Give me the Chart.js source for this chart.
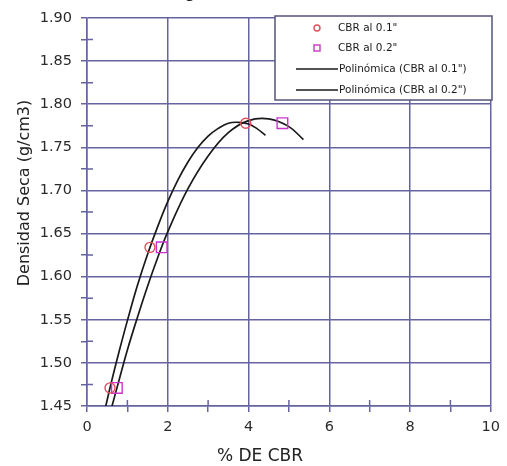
<!DOCTYPE html>
<html>
<head>
<meta charset="utf-8">
<script src="https://cdn.jsdelivr.net/npm/chart.js@4.4.1/dist/chart.umd.min.js"></script>
<style>
  html, body { margin: 0; padding: 0; background: #fff; }
  #wrap { width: 507px; height: 466px; }
</style>
</head>
<body>
<div id="wrap"><canvas id="chart" width="507" height="466"></canvas></div>
<script>
const chartTitle = 'Diagrama Densidad Seca vs. CBR';
const xTitle = '% DE CBR';
const yTitle = 'Densidad Seca (g/cm3)';

// ensayos
const cbr01 = [0.57, 1.56, 3.93];
const dens01 = [1.471, 1.634, 1.778];
const cbr02 = [0.74, 1.85, 4.84];
const dens02 = [1.471, 1.634, 1.778];

// curvas de tendencia
const trend01X = [0.46, 0.6, 0.8, 1.0, 1.25, 1.5, 1.75, 2.0, 2.25, 2.5, 2.75, 3.0, 3.25, 3.5, 3.75, 4.0, 4.2, 4.42];
const trend01Y = [1.449, 1.477, 1.514, 1.549, 1.590, 1.626, 1.658, 1.687, 1.712, 1.733, 1.750, 1.763, 1.772, 1.778, 1.779, 1.777, 1.772, 1.764];
const trend02X = [0.62, 0.8, 1.0, 1.25, 1.5, 1.75, 2.0, 2.5, 3.0, 3.5, 4.0, 4.5, 5.0, 5.36];
const trend02Y = [1.450, 1.481, 1.515, 1.553, 1.589, 1.622, 1.652, 1.702, 1.740, 1.767, 1.781, 1.783, 1.774, 1.759];

const labels = ['CBR al 0.1"', 'CBR al 0.2"', 'Polinómica (CBR al 0.1")', 'Polinómica (CBR al 0.2")'];

const gridCol = '#6664a0';
const fam = '"DejaVu Sans", "Liberation Sans", Arial, sans-serif';

function pts(xs, ys) {
    return xs.map((x, i) => ({ x: x, y: ys[i] }));
}

const isMajorY = v => Math.round(v * 1000) % 50 === 0;
const isMajorX = v => Math.round(v) % 2 === 0;

// titulos (el de arriba sale cortado como en la imagen)
const titlePlugin = {
    id: 'titles',
    afterDraw(chart) {
        const ctx = chart.ctx;
        ctx.save();
        ctx.fillStyle = '#222';
        ctx.textAlign = 'center';
        ctx.font = 'bold 14px ' + fam;
        ctx.textBaseline = 'alphabetic';
        ctx.fillText(chartTitle, 290, -2);

        ctx.font = '17px ' + fam;
        ctx.textBaseline = 'middle';
        ctx.fillText(xTitle, 260, 457);

        ctx.font = '16px ' + fam;
        ctx.translate(25, 193);
        ctx.rotate(-Math.PI / 2);
        ctx.fillText(yTitle, 0, 0);
        ctx.restore();
    }
};

// marcas menores que cruzan el eje
const minorTicks = {
    id: 'minorTicks',
    beforeDatasetsDraw(chart) {
        const ctx = chart.ctx;
        const xs = chart.scales.x, ys = chart.scales.y;
        const a = chart.chartArea;
        ctx.save();
        ctx.strokeStyle = gridCol;
        ctx.lineWidth = 1.5;
        ctx.beginPath();
        ys.ticks.forEach(t => {
            if (!isMajorY(t.value)) {
                const y = ys.getPixelForValue(t.value);
                ctx.moveTo(a.left, y);
                ctx.lineTo(a.left + 6, y);
            }
        });
        xs.ticks.forEach(t => {
            if (!isMajorX(t.value)) {
                const x = xs.getPixelForValue(t.value);
                ctx.moveTo(x, a.bottom);
                ctx.lineTo(x, a.bottom - 6);
            }
        });
        ctx.stroke();
        ctx.restore();
    }
};

// leyenda dentro del area
const boxLegend = {
    id: 'boxLegend',
    afterDraw(chart) {
        const ctx = chart.ctx;
        const x0 = 275, y0 = 16, w = 217, h = 84;
        ctx.save();
        ctx.fillStyle = '#fff';
        ctx.fillRect(x0, y0, w, h);
        ctx.strokeStyle = '#55547a';
        ctx.lineWidth = 1.5;
        ctx.strokeRect(x0, y0, w, h);
        ctx.font = '10.5px ' + fam;
        ctx.textBaseline = 'middle';
        ctx.textAlign = 'left';
        const rows = [28, 48, 69, 90];
        labels.forEach((lab, i) => {
            const y = rows[i];
            if (i === 0) {
                ctx.strokeStyle = '#e2505a';
                ctx.lineWidth = 1.4;
                ctx.beginPath();
                ctx.arc(317, y, 3, 0, Math.PI * 2);
                ctx.stroke();
            } else if (i === 1) {
                ctx.strokeStyle = '#cc33cc';
                ctx.lineWidth = 1.4;
                ctx.strokeRect(314, y - 3, 6, 6);
            } else {
                ctx.strokeStyle = '#1a1a1a';
                ctx.lineWidth = 1.6;
                ctx.beginPath();
                ctx.moveTo(296, y);
                ctx.lineTo(338, y);
                ctx.stroke();
            }
            ctx.fillStyle = '#1a1a1a';
            ctx.fillText(lab, i < 2 ? 338 : 339, y);
        });
        ctx.restore();
    }
};

const tickFont = { family: fam, size: 14.5 };

new Chart(document.getElementById('chart'), {
    type: 'scatter',
    data: {
        datasets: [
            {
                label: labels[0],
                data: pts(cbr01, dens01),
                pointStyle: 'circle',
                pointRadius: 5,
                pointBorderColor: '#e2505a',
                pointBackgroundColor: 'rgba(0,0,0,0)',
                pointBorderWidth: 1.4,
                order: 0
            },
            {
                label: labels[1],
                data: pts(cbr02, dens02),
                pointStyle: 'rect',
                pointRadius: 7.5,
                pointBorderColor: '#cc33cc',
                pointBackgroundColor: 'rgba(0,0,0,0)',
                pointBorderWidth: 1.4,
                order: 0
            },
            {
                label: labels[2],
                type: 'line',
                data: pts(trend01X, trend01Y),
                borderColor: '#1a1a1a',
                borderWidth: 1.7,
                pointRadius: 0,
                tension: 0.4,
                fill: false,
                order: 1
            },
            {
                label: labels[3],
                type: 'line',
                data: pts(trend02X, trend02Y),
                borderColor: '#1a1a1a',
                borderWidth: 1.7,
                pointRadius: 0,
                tension: 0.4,
                fill: false,
                order: 1
            }
        ]
    },
    options: {
        responsive: false,
        animation: false,
        events: [],
        layout: { padding: { top: 18, right: 15, left: 0, bottom: 0 } },
        plugins: {
            legend: { display: false },
            tooltip: { enabled: false }
        },
        scales: {
            x: {
                type: 'linear',
                min: 0,
                max: 10,
                afterFit(s) { s.height = 60; },
                ticks: {
                    stepSize: 1,
                    padding: 7,
                    color: '#2a2a2a',
                    font: tickFont,
                    maxRotation: 0,
                    autoSkip: false,
                    callback: v => isMajorX(v) ? String(v) : ''
                },
                grid: {
                    color: c => isMajorX(c.tick.value) ? gridCol : 'rgba(0,0,0,0)',
                    tickColor: gridCol,
                    lineWidth: 1.5,
                    tickLength: 6
                },
                border: { color: gridCol, width: 1.5 }
            },
            y: {
                type: 'linear',
                min: 1.45,
                max: 1.90,
                afterFit(s) { s.width = 87; },
                ticks: {
                    stepSize: 0.025,
                    padding: 9,
                    color: '#2a2a2a',
                    font: tickFont,
                    autoSkip: false,
                    callback: v => isMajorY(v) ? v.toFixed(2) : ''
                },
                grid: {
                    color: c => isMajorY(c.tick.value) ? gridCol : 'rgba(0,0,0,0)',
                    tickColor: gridCol,
                    lineWidth: 1.5,
                    tickLength: 6
                },
                border: { color: gridCol, width: 1.5 }
            }
        }
    },
    plugins: [minorTicks, boxLegend, titlePlugin]
});
</script>
</body>
</html>
